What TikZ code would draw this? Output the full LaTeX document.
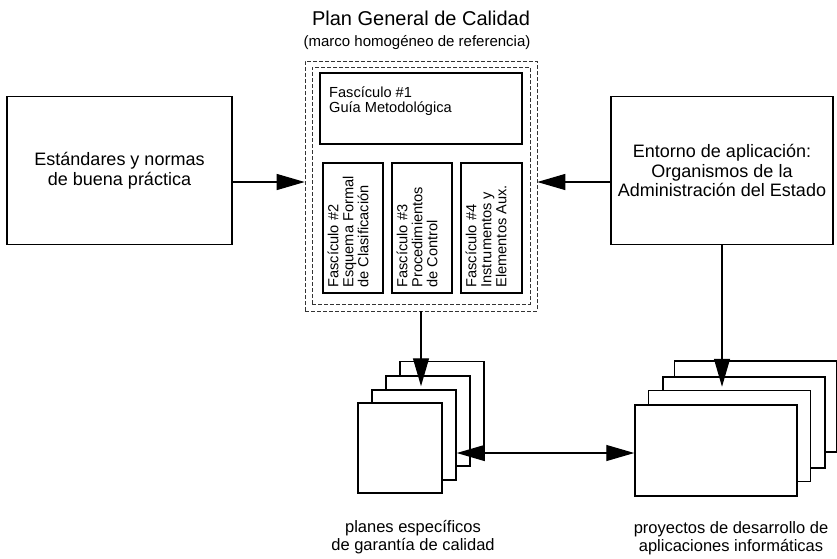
\documentclass[tikz,border=0pt]{standalone}
\usepackage{fontspec}
\setmainfont{Liberation Sans}
\usetikzlibrary{arrows.meta,calc}

\tikzset{
  mainbox/.style={draw, line width=1.9pt, inner sep=0pt, align=center,
    font=\fontsize{18}{19.5}\selectfont},
  frame/.style={draw=black!80, line width=0.6pt, dash pattern=on 4pt off 2pt,
    inner sep=0pt},
  fbox/.style={draw, line width=1.4pt, inner sep=0pt},
  ftext/.style={inner sep=0pt, align=left, font=\fontsize{14.6}{15}\selectfont},
  vtext/.style={ftext, rotate=90, anchor=north west},
  sheet/.style={draw, line width=1.5pt, fill=white, inner sep=0pt},
  lsheet/.style={sheet, minimum width=84pt, minimum height=90pt},
  rsheet/.style={sheet, minimum width=162pt, minimum height=91pt},
  conn/.style={line width=1.2pt, -{Triangle[length=28pt,width=16pt]}},
  conn2/.style={line width=1.2pt, {Triangle[length=28pt,width=16pt]}-{Triangle[length=28pt,width=16pt]}},
  caption/.style={align=center, inner sep=0pt, font=\fontsize{16.5}{17.5}\selectfont}
}

\begin{document}
\begin{tikzpicture}[x=1pt,y=-1pt]
\useasboundingbox[fill=white] (0,0) rectangle (837,558);

% heading of the quality plan
\node[inner sep=0pt, font=\fontsize{20}{22}\selectfont] (title) at (421,18) {Plan General de Calidad};
\node[inner sep=0pt, font=\fontsize{15}{17}\selectfont] (subtitle) at (417,43) {(marco homog\'eneo de referencia)};

% dashed double frame holding the four fascicles
\node[frame, minimum width=232pt, minimum height=250pt] (pg) at (421,186) {};
\node[frame, minimum width=218pt, minimum height=237pt] (pgin) at (421,185.5) {};

\node[fbox, minimum width=202pt, minimum height=71pt] (f1) at (421,108.5) {};
\node[ftext, anchor=north west] (f1t) at (329,87) {Fasc\'iculo \#1\\Gu\'ia Metodol\'ogica};

\node[fbox, minimum width=60pt, minimum height=130pt] (f2) at (353,228) {};
\node[fbox, minimum width=60pt, minimum height=130pt] (f3) at (422,228) {};
\node[fbox, minimum width=61pt, minimum height=130pt] (f4) at (491.5,228) {};
\node[vtext] (f2t) at ($(f2.south west)+(5,-6)$) {Fasc\'iculo \#2\\Esquema Formal\\de Clasificaci\'on};
\node[vtext] (f3t) at ($(f3.south west)+(5,-6)$) {Fasc\'iculo \#3\\Procedimientos\\de Control};
\node[vtext] (f4t) at ($(f4.south west)+(5,-6)$) {Fasc\'iculo \#4\\Instrumentos y\\Elementos Aux.};

% side boxes
\node[mainbox, minimum width=225pt, minimum height=148pt] (std) at (119.5,170.5)
  {Est\'andares y normas\\de buena pr\'actica};
\node[mainbox, minimum width=222pt, minimum height=148pt] (env) at (722,170.5)
  {Entorno de aplicaci\'on:\\Organismos de la\\Administraci\'on del Estado};

% stack of specific quality plans (back to front)
\node[lsheet] (lb4) at (442,406.5) {};
\node[lsheet] (lb3) at (428,421) {};
\node[lsheet] (lb2) at (414,435) {};
\node[lsheet] (lb1) at (400,448) {};

% stack of software projects (back to front)
\node[rsheet] (rb4) at (755.5,406.5) {};
\node[rsheet] (rb3) at (744,422.5) {};
\node[rsheet] (rb2) at (729.5,436) {};
\node[rsheet] (rb1) at (716,450.5) {};

% captions
\node[caption] (lcap) at (413,537) {planes espec\'ificos\\de garant\'ia de calidad};
\node[caption] (rcap) at (731,538) {proyectos de desarrollo de\\aplicaciones inform\'aticas};

% connectors
\coordinate (ay) at (0,182);
\coordinate (by) at (0,453);
\draw[conn] (std.east |- ay) -- (pg.west |- ay);
\draw[conn] (env.west |- ay) -- (pg.east |- ay);
\draw[conn] (pg.south) -- ($(pg.south |- lb2.north)+(0,-3)$);
\draw[conn] (env.south) -- ($(env.south |- rb2.north)+(0,-3)$);
\draw[conn2] (lb2.east |- by) -- (rb1.west |- by);
\end{tikzpicture}
\end{document}
